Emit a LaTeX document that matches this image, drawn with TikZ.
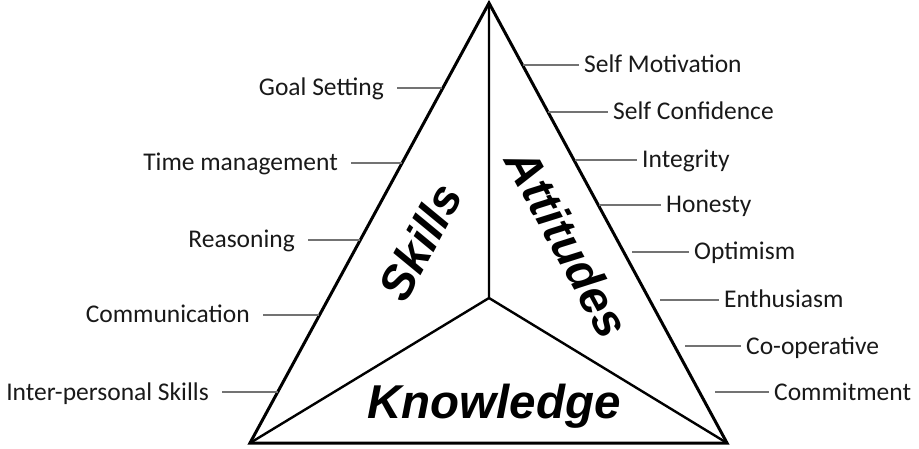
\documentclass[tikz,border=0pt]{standalone}
\usepackage{fontspec}
\setmainfont{Carlito}
\newfontfamily\arialfont{Liberation Sans}
\usetikzlibrary{positioning}

\begin{document}
\begin{tikzpicture}[x=1pt, y=-1pt]
\tikzstyle{item}=[inner sep=0pt, text height=16pt, text depth=0pt,
                  text=black!90, font=\fontsize{25.5}{30}\selectfont]
\tikzstyle{part}=[inner sep=0pt, font=\arialfont\bfseries\itshape\fontsize{47.5}{50}\selectfont]
\tikzstyle{edge}=[line width=3pt, line join=miter]
\tikzstyle{split}=[line width=2.4pt]
\tikzstyle{leader}=[line width=2pt, black!55]
\useasboundingbox (0,0) rectangle (919,449);
% triangle
\coordinate (T) at (489,3);
\coordinate (L) at (250,443);
\coordinate (R) at (727,443);
\coordinate (M) at (489,298);
\draw[edge] (T) -- (L) -- (R) -- cycle;
\draw[split] (T) -- (M) -- (L);
\draw[split] (M) -- (R);
\node[part, rotate=61.5] (sk) at (420,242) {Skills};
\node[part, rotate=-61.5] (at) at (568,243) {Attitudes};
\node[part, anchor=base] (kn) at (494,418) {Knowledge};
% skills
\node[item, anchor=east] (gs) at (384,88) {Goal Setting};
\node[item, anchor=east] (tm) at (338,163) {Time management};
\node[item, anchor=east] (re) at (295,240) {Reasoning};
\node[item, anchor=east] (cn) at (250,315) {Communication};
\node[item, anchor=east] (ip) at (209,392) {Inter-personal Skills};
\coordinate (gsE) at (442,88);
\coordinate (tmE) at (402,163);
\coordinate (reE) at (360,240);
\coordinate (cnE) at (319,315);
\coordinate (ipE) at (278,392);
\draw[leader, shorten <=13pt] (gs) -- (gsE);
\draw[leader, shorten <=13pt] (tm) -- (tmE);
\draw[leader, shorten <=13pt] (re) -- (reE);
\draw[leader, shorten <=13pt] (cn) -- (cnE);
\draw[leader, shorten <=13pt] (ip) -- (ipE);
% attitudes
\node[item, anchor=west] (sm) at (584,65) {Self Motivation};
\node[item, anchor=west] (sc) at (613,112) {Self Confidence};
\node[item, anchor=west] (ig) at (642,160) {Integrity};
\node[item, anchor=west] (ho) at (666,205) {Honesty};
\node[item, anchor=west] (op) at (694,252) {Optimism};
\node[item, anchor=west] (en) at (724,300) {Enthusiasm};
\node[item, anchor=west] (co) at (746,346) {Co-operative};
\node[item, anchor=west] (cm) at (774,392) {Commitment};
\coordinate (smE) at (523,65);
\coordinate (scE) at (548,112);
\coordinate (igE) at (575,160);
\coordinate (hoE) at (599,205);
\coordinate (opE) at (632,252);
\coordinate (enE) at (660,300);
\coordinate (coE) at (685,346);
\coordinate (cmE) at (715,392);
\draw[leader, shorten >=5pt] (smE) -- (sm);
\draw[leader, shorten >=5pt] (scE) -- (sc);
\draw[leader, shorten >=5pt] (igE) -- (ig);
\draw[leader, shorten >=5pt] (hoE) -- (ho);
\draw[leader, shorten >=5pt] (opE) -- (op);
\draw[leader, shorten >=5pt] (enE) -- (en);
\draw[leader, shorten >=5pt] (coE) -- (co);
\draw[leader, shorten >=5pt] (cmE) -- (cm);
\end{tikzpicture}
\end{document}
